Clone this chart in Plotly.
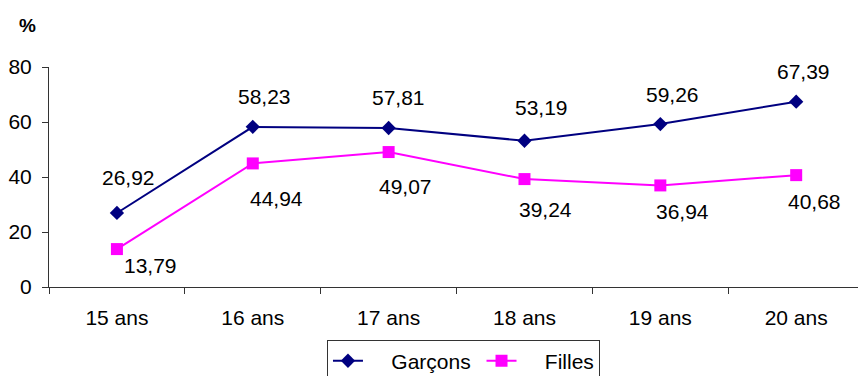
import plotly.graph_objects as go

ages = ["15 ans", "16 ans", "17 ans", "18 ans", "19 ans", "20 ans"]
garcons = [26.92, 58.23, 57.81, 53.19, 59.26, 67.39]
filles = [13.79, 44.94, 49.07, 39.24, 36.94, 40.68]

# pixel offsets of the value labels relative to their markers
garcons_label_shift = [(12, 35), (12, 30), (10, 31), (17, 33), (12, 30), (7, 30)]
filles_label_shift = [(34, -16), (24, -35), (17, -34), (21, -30), (22, -26), (18, -26)]

FONT = "Liberation Sans, Arial, sans-serif"
NAVY = "#000080"
MAGENTA = "#FF00FF"
AXIS = "#333333"
FS = 21
NB = "\u00a0"


def fr(v):
    return f"{v:.2f}".replace(".", ",")


fig = go.Figure()
fig.add_trace(go.Scatter(
    x=ages, y=garcons, name=NB * 4 + "Garçons" + NB, mode="lines+markers",
    line=dict(color=NAVY, width=2),
    marker=dict(symbol="diamond", size=11, color=NAVY),
))
fig.add_trace(go.Scatter(
    x=ages, y=filles, name=NB * 4 + "Filles", mode="lines+markers",
    line=dict(color=MAGENTA, width=2),
    marker=dict(symbol="square", size=12, color=MAGENTA),
))

annotations = []
for a, v, (dx, dy) in zip(ages, garcons, garcons_label_shift):
    annotations.append(dict(
        x=a, y=v, text=fr(v), showarrow=False, xshift=dx, yshift=dy,
        font=dict(family=FONT, size=FS, color="black"),
    ))
for a, v, (dx, dy) in zip(ages, filles, filles_label_shift):
    annotations.append(dict(
        x=a, y=v, text=fr(v), showarrow=False, xshift=dx, yshift=dy,
        font=dict(family=FONT, size=FS, color="black"),
    ))
annotations.append(dict(
    xref="paper", yref="paper", x=-0.027, y=1.19, text="<b>%</b>",
    showarrow=False, xanchor="center", yanchor="middle",
    font=dict(family=FONT, size=19, color="black"),
))

fig.update_layout(
    width=858, height=376,
    margin=dict(l=49, r=0, t=67, b=89, autoexpand=False),
    paper_bgcolor="white", plot_bgcolor="white",
    font=dict(family=FONT, size=FS, color="black"),
    showlegend=True,
    legend=dict(
        orientation="h", x=0.3436, y=-0.239, xanchor="left", yanchor="top",
        bordercolor=AXIS, borderwidth=1, bgcolor="white",
        font=dict(family=FONT, size=FS, color="black"),
    ),
    annotations=annotations,
)
fig.update_xaxes(
    type="category", range=[-0.5, 5.455], autorange=False,
    showline=True, linecolor=AXIS, linewidth=1,
    ticks="outside", tickson="boundaries", ticklen=6, tickcolor=AXIS,
    showgrid=False, zeroline=False,
    tickfont=dict(family=FONT, size=FS, color="black"),
    ticklabelstandoff=12,
)
fig.update_yaxes(
    range=[0, 80], dtick=20, showline=True, linecolor=AXIS, linewidth=1,
    ticks="outside", ticklen=6, tickcolor=AXIS,
    showgrid=False, zeroline=False,
    tickfont=dict(family=FONT, size=FS, color="black"),
    ticklabelstandoff=6,
)

fig.write_html("out.html")
